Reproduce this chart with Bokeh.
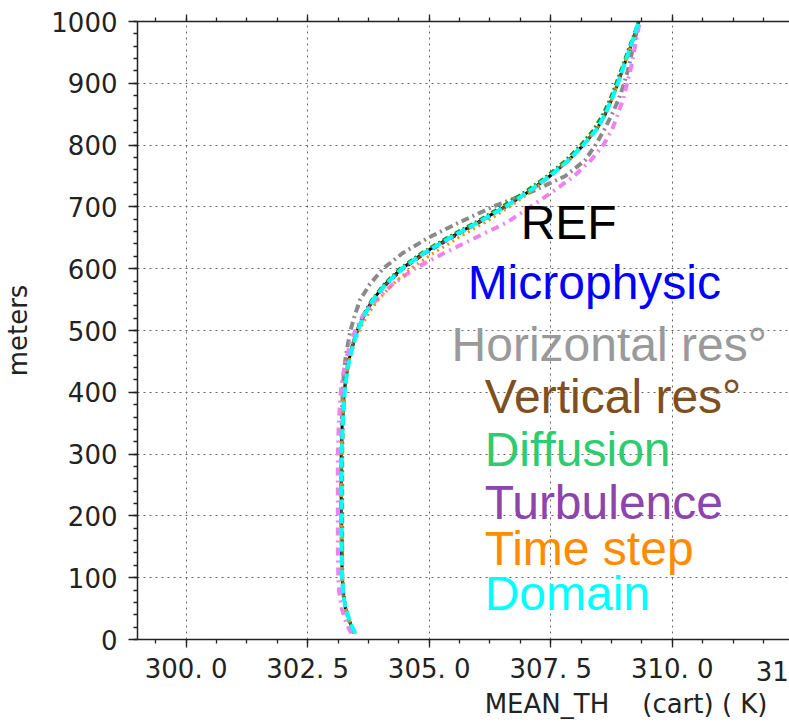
from bokeh.plotting import figure
from bokeh.models import Range1d, LinearAxis, SingleIntervalTicker, ColumnDataSource, Title
from bokeh.core.properties import value
from bokeh.embed import file_html
from bokeh.resources import INLINE

# ---------------- data ----------------
heights_m = [10, 25, 50, 75, 100, 150, 200, 250, 300, 350, 400, 425, 450, 475, 500,
             525, 550, 575, 600, 625, 650, 675, 700, 725, 750, 775, 800, 825, 850,
             875, 900, 925, 950, 975, 1000]

th_ref = [303.47, 303.38, 303.28, 303.23, 303.21, 303.20, 303.19, 303.19, 303.19, 303.21,
          303.25, 303.29, 303.34, 303.42, 303.52, 303.66, 303.84, 304.10, 304.43, 304.88,
          305.42, 306.00, 306.55, 307.05, 307.48, 307.86, 308.17, 308.44, 308.62, 308.76,
          308.88, 308.99, 309.10, 309.21, 309.31]
th_micro = [303.47, 303.38, 303.28, 303.23, 303.21, 303.20, 303.19, 303.19, 303.20, 303.21,
            303.25, 303.29, 303.35, 303.43, 303.53, 303.67, 303.86, 304.13, 304.47, 304.93,
            305.47, 306.04, 306.58, 307.07, 307.49, 307.86, 308.17, 308.43, 308.62, 308.76,
            308.88, 308.99, 309.10, 309.21, 309.31]
th_horiz = [303.45, 303.37, 303.28, 303.23, 303.21, 303.20, 303.19, 303.19, 303.19, 303.20,
            303.22, 303.24, 303.27, 303.32, 303.38, 303.47, 303.58, 303.78, 304.05, 304.45,
            304.98, 305.62, 306.30, 307.12, 307.80, 308.20, 308.42, 308.60, 308.76, 308.90,
            309.01, 309.10, 309.17, 309.24, 309.31]
th_vert = [303.48, 303.39, 303.29, 303.24, 303.22, 303.21, 303.20, 303.20, 303.20, 303.22,
           303.26, 303.30, 303.35, 303.43, 303.53, 303.67, 303.85, 304.11, 304.45, 304.90,
           305.44, 306.02, 306.56, 307.05, 307.47, 307.85, 308.16, 308.43, 308.61, 308.75,
           308.87, 308.99, 309.10, 309.21, 309.31]
th_diff = [303.47, 303.38, 303.28, 303.24, 303.22, 303.22, 303.22, 303.22, 303.22, 303.23,
           303.26, 303.28, 303.33, 303.41, 303.51, 303.64, 303.82, 304.07, 304.39, 304.83,
           305.36, 305.94, 306.48, 306.98, 307.42, 307.80, 308.11, 308.38, 308.57, 308.72,
           308.84, 308.96, 309.07, 309.19, 309.30]
th_turb = [303.40, 303.30, 303.20, 303.15, 303.13, 303.12, 303.12, 303.12, 303.12, 303.14,
           303.18, 303.22, 303.28, 303.36, 303.48, 303.64, 303.92, 304.25, 304.70, 305.30,
           305.95, 306.60, 307.08, 307.55, 307.98, 308.32, 308.58, 308.76, 308.88, 308.99,
           309.07, 309.15, 309.21, 309.27, 309.33]
th_time = [303.47, 303.38, 303.28, 303.23, 303.21, 303.20, 303.19, 303.19, 303.19, 303.21,
           303.25, 303.29, 303.35, 303.44, 303.56, 303.73, 303.95, 304.25, 304.62, 305.08,
           305.60, 306.15, 306.65, 307.10, 307.50, 307.87, 308.18, 308.44, 308.62, 308.76,
           308.88, 308.99, 309.10, 309.21, 309.31]
th_domain = [303.48, 303.39, 303.28, 303.23, 303.21, 303.20, 303.20, 303.20, 303.20, 303.22,
             303.26, 303.30, 303.35, 303.43, 303.53, 303.67, 303.85, 304.11, 304.44, 304.89,
             305.43, 306.01, 306.56, 307.05, 307.48, 307.86, 308.17, 308.44, 308.62, 308.76,
             308.88, 308.99, 309.10, 309.21, 309.31]

series_names = ["REF", "Microphysic", "Horizontal res°", "Vertical res°",
                "Diffusion", "Turbulence", "Time step", "Domain"]
series_values = [th_ref, th_micro, th_horiz, th_vert, th_diff, th_turb, th_time, th_domain]

x_tick_values = [300.0, 302.5, 305.0, 307.5, 310.0, 312.5]
x_tick_labels = ["300. 0", "302. 5", "305. 0", "307. 5", "310. 0", "312. 5"]
x_title = "MEAN_TH\u00a0\u00a0\u00a0\u00a0(cart) ( K)"
y_title = "meters"

# ---------------- styles / layout ----------------
line_colors = ["black", "#0000ff", "#8a8a8a", "#8b4513", "#1f8a1f", "#ee82ee", "#ff8c00", "#00ffff"]
line_dashes = ["solid", "6 4", "8 4 2 4", "6 4", "6 3 2 3", "8 5 2 5", "2 4", "10 4"]
line_widths = [3, 2.5, 4, 2.5, 3, 4, 3, 4]
text_colors = ["black", "#0000ff", "#9a9a9a", "#7f4f1f", "#2ecc71", "#8e44ad", "#ff8c00", "#00ffff"]
text_x = [306.88, 305.79, 305.46, 306.14, 306.14, 306.14, 306.14, 306.14]
text_y = [674, 578, 478, 394, 308, 221, 148, 75]

AX = "#222222"
FONT = "DejaVu Sans"

p = figure(width=789, height=722, output_backend="svg", toolbar_location=None,
           x_range=Range1d(299.0, 312.41), y_range=Range1d(0, 1000),
           min_border_left=137, min_border_right=0, min_border_top=21, min_border_bottom=83)
p.outline_line_color = None
p.background_fill_color = "white"

xt = SingleIntervalTicker(interval=2.5, num_minor_ticks=4)
yt = SingleIntervalTicker(interval=100, num_minor_ticks=5)

xa = p.xaxis[0]
xa.ticker = xt
xa.major_label_overrides = dict(zip(x_tick_values, x_tick_labels))
ya = p.yaxis[0]
ya.ticker = yt

for ax in (xa, ya):
    ax.axis_line_color = AX
    ax.axis_line_width = 1.5
    ax.major_tick_line_color = AX
    ax.minor_tick_line_color = AX
    ax.major_tick_line_width = 1.3
    ax.minor_tick_line_width = 1.3
    ax.major_tick_in = 0
    ax.minor_tick_in = 0
    ax.minor_tick_out = 4
    ax.major_label_text_font = FONT
    ax.major_label_text_font_size = "26px"
    ax.major_label_text_color = AX
xa.major_tick_out = 8
xa.major_label_standoff = 6
ya.major_tick_out = 9
ya.major_label_standoff = 11
ya.axis_label = y_title
ya.axis_label_text_font = FONT
ya.axis_label_text_font_size = "26px"
ya.axis_label_text_font_style = "normal"
ya.axis_label_text_color = AX
ya.axis_label_standoff = 15

top = LinearAxis(ticker=xt, axis_line_color=AX, axis_line_width=1.5,
                 major_tick_line_color=AX, minor_tick_line_color=AX,
                 major_tick_line_width=1.3, minor_tick_line_width=1.3,
                 major_tick_in=0, major_tick_out=7, minor_tick_in=0, minor_tick_out=4,
                 major_label_overrides={v: "" for v in x_tick_values},
                 major_label_text_font_size="8px", major_label_standoff=0)
p.add_layout(top, "above")

p.xgrid.ticker = xt
p.ygrid.ticker = yt
p.grid.grid_line_color = "#666666"
p.grid.grid_line_dash = "2 4"
p.grid.grid_line_width = 1

for vals, c, d, w in zip(series_values, line_colors, line_dashes, line_widths):
    p.line(x=vals, y=heights_m, line_color=c, line_dash=d, line_width=w)

src = ColumnDataSource(dict(x=text_x, y=text_y, t=series_names, c=text_colors))
p.text(x="x", y="y", text="t", text_color="c", source=src,
       text_font=value("Liberation Sans"), text_font_size="48px",
       text_align="left", text_baseline="alphabetic")

# last (clipped) tick label, then the x axis title, right-aligned
p.add_layout(Title(text=x_tick_labels[-1], align="right", offset=-49, standoff=-60,
                   vertical_align="top", text_font=FONT, text_font_size="26px",
                   text_font_style="normal", text_color=AX), "below")
p.add_layout(Title(text=x_title, align="right", offset=22, standoff=4,
                   vertical_align="top", text_font=FONT, text_font_size="26px",
                   text_font_style="normal", text_color=AX), "below")

open("out.html", "w").write(file_html(p, INLINE))
